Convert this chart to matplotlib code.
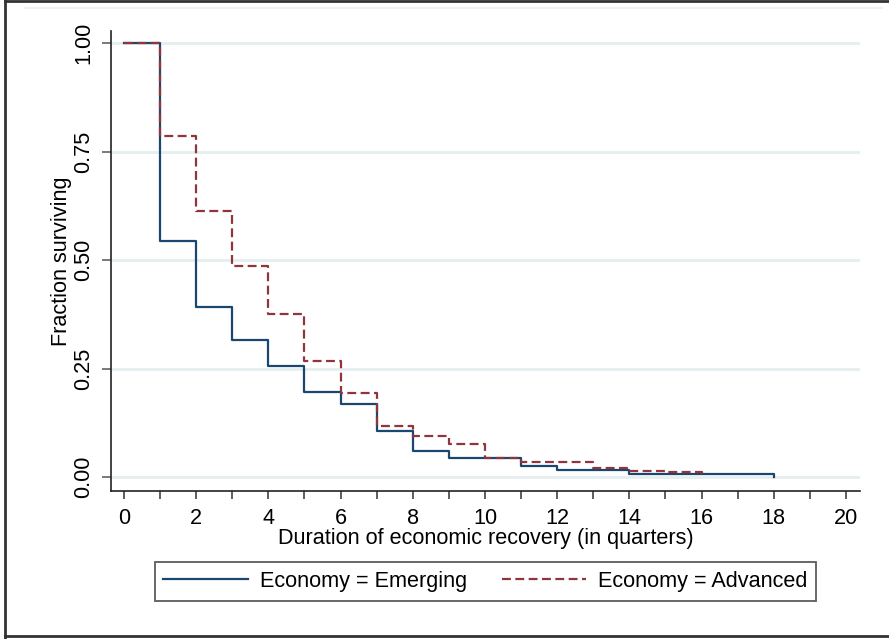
"""
Kaplan-Meier style survival curves: duration of economic recovery,
emerging vs advanced economies.
"""

import matplotlib
matplotlib.use('Agg')
import matplotlib.pyplot as plt
from matplotlib.lines import Line2D

plt.rcParams['font.family'] = ['Liberation Sans', 'DejaVu Sans']

# quarters at which each survival value starts (step, post)
quarters_emerging = list(range(0, 19))
surv_emerging = [1.000, 0.544, 0.392, 0.316, 0.257, 0.197, 0.168, 0.107, 0.061,
                 0.045, 0.044, 0.027, 0.017, 0.017, 0.008, 0.008, 0.008, 0.008, 0.0]

quarters_advanced = list(range(0, 17))
surv_advanced = [1.000, 0.787, 0.614, 0.487, 0.376, 0.268, 0.195, 0.117, 0.096,
                 0.077, 0.044, 0.035, 0.035, 0.021, 0.015, 0.012, 0.0]

x_ticks = list(range(0, 21, 2))
x_minor = list(range(1, 20, 2))
y_ticks = [0.0, 0.25, 0.50, 0.75, 1.0]
y_ticklabels = ['0.00', '0.25', '0.50', '0.75', '1.00']

BLUE = '#1a476f'
RED = '#90353b'
GRID = '#e6eef0'
FS = 15.6

fig = plt.figure(figsize=(8.89, 6.39), dpi=100)
ax = fig.add_axes([111 / 889, 148 / 639, 749 / 889, 460 / 639])

ax.step(quarters_emerging, surv_emerging, where='post', color=BLUE,
        linewidth=1.6, label='Economy = Emerging', zorder=3)
ax.step(quarters_advanced, surv_advanced, where='post', color=RED,
        linewidth=1.6, linestyle=(0, (4, 2)), label='Economy = Advanced', zorder=4)

ax.set_xlim(-0.36, 20.39)
ax.set_ylim(-0.0316, 1.028)

ax.set_xticks(x_ticks)
ax.set_xticks(x_minor, minor=True)
ax.set_yticks(y_ticks)
ax.set_yticklabels(y_ticklabels, rotation=90, va='center')

ax.tick_params(axis='x', which='both', length=5.5, width=1.1, color='#333333',
               labelsize=FS, pad=6.5)
ax.tick_params(axis='y', which='both', length=6.5, width=1.1, color='#555555',
               labelsize=FS, pad=5.5)

ax.grid(True, axis='y', color=GRID, linewidth=2)
ax.set_axisbelow(True)

for side in ['top', 'right']:
    ax.spines[side].set_visible(False)
for side in ['left', 'bottom']:
    ax.spines[side].set_color('#222222')
    ax.spines[side].set_linewidth(1.2)

ax.set_xlabel('Duration of economic recovery (in quarters)', fontsize=FS, labelpad=-0.5)
ax.set_ylabel('Fraction surviving', fontsize=FS, labelpad=1.0)

leg = fig.legend(loc='center', bbox_to_anchor=(485.5 / 889, 1 - 581.5 / 639),
                 ncol=2, fontsize=FS, frameon=True, fancybox=False,
                 handlelength=3.9, handletextpad=0.55, columnspacing=1.6,
                 borderpad=0.4)
leg.get_frame().set_edgecolor('#333333')
leg.get_frame().set_linewidth(1.3)

# outer graph-region frame and the faint line near the top
fig.add_artist(Line2D([5 / 889, 5 / 889], [0, 1], color='#333333', linewidth=2))
fig.add_artist(Line2D([5 / 889, 1], [1 - 1 / 639, 1 - 1 / 639], color='#333333', linewidth=2))
fig.add_artist(Line2D([5 / 889, 1], [1 - 636 / 639, 1 - 636 / 639], color='#333333', linewidth=2))
fig.add_artist(Line2D([25 / 889, 882 / 889], [1 - 7.5 / 639, 1 - 7.5 / 639], color='#edf3f4', linewidth=1.5))

plt.savefig('out.png', dpi=100)
plt.close()
